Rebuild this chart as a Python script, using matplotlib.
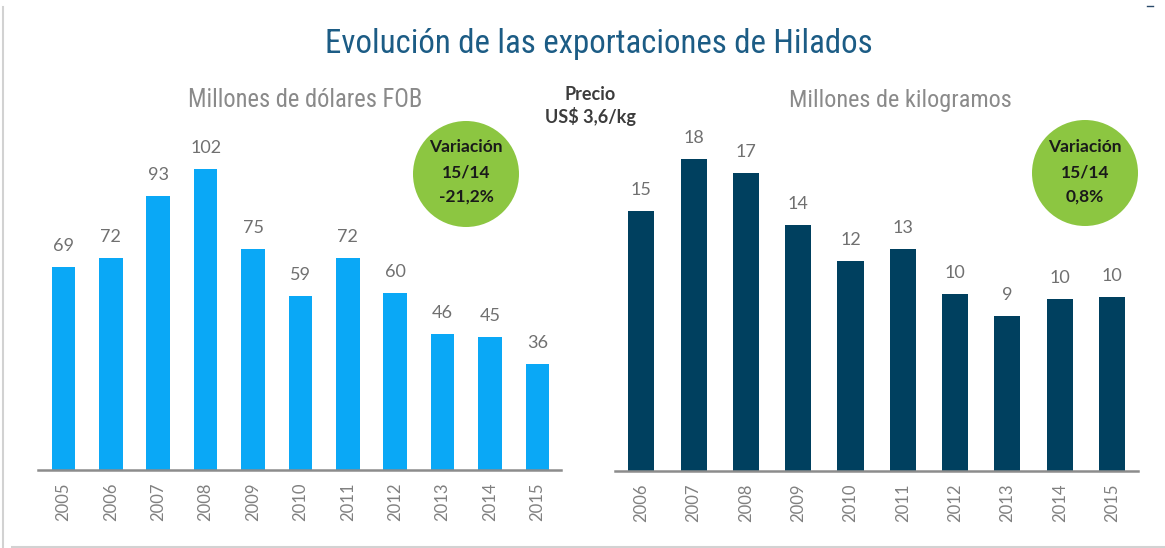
import matplotlib
matplotlib.use("Agg")
import matplotlib.pyplot as plt
from matplotlib import font_manager as fm
from matplotlib.patches import Ellipse
from matplotlib.lines import Line2D

# ---------------- data ----------------
years_usd = ["2005", "2006", "2007", "2008", "2009", "2010", "2011", "2012", "2013", "2014", "2015"]
usd_values = [69, 72, 93, 102, 75, 59, 72, 60, 46, 45, 36]

years_kg = ["2006", "2007", "2008", "2009", "2010", "2011", "2012", "2013", "2014", "2015"]
kg_values = [15.0, 18.0, 17.2, 14.2, 12.1, 12.8, 10.2, 8.9, 9.9, 10.0]

title = "Evolución de las exportaciones de Hilados"
sub_usd = "Millones de dólares FOB"
sub_kg = "Millones de kilogramos"
price_lines = ["Precio", "US$ 3,6/kg"]
var_usd = ["Variación", "15/14", "-21,2%"]
var_kg = ["Variación", "15/14", "0,8%"]

# ---------------- fonts ----------------
avail = {f.name for f in fm.fontManager.ttflist}
narrow = next((n for n in ["Liberation Sans Narrow", "DejaVu Sans Condensed",
                           "Roboto Condensed", "Open Sans Condensed", "Noto Sans Condensed"]
               if n in avail), "Roboto")
body = "Lato" if "Lato" in avail else "DejaVu Sans"

W, H = 1165, 548
fig = plt.figure(figsize=(W / 100, H / 100), dpi=100)
fig.patch.set_facecolor("white")


def fx(px):
    return px / W


def fy(py):
    return 1 - py / H


def add_panel(x0, x1, baseline, px_per_unit, ymax, xlim, cats, vals, color, width, labels):
    ax = fig.add_axes([fx(x0), fy(baseline), fx(x1 - x0), ymax * px_per_unit / H])
    pos = list(range(len(cats)))
    ax.bar(pos, vals, width=width, color=color, zorder=2)
    ax.set_xlim(*xlim)
    ax.set_ylim(0, ymax)
    for s in ["top", "left", "right"]:
        ax.spines[s].set_visible(False)
    ax.spines["bottom"].set_color("#8c8c8c")
    ax.spines["bottom"].set_linewidth(1.8)
    ax.spines["bottom"].set_zorder(3)
    ax.set_yticks([])
    ax.set_xticks(pos)
    ax.set_xticklabels(cats, rotation=90, fontsize=12, color="#808080", family=body)
    ax.tick_params(axis="x", length=0, pad=9)
    ax.patch.set_alpha(0)
    for p, v, lab in zip(pos, vals, labels):
        ax.annotate(lab, (p, v), xytext=(0, 11.5), textcoords="offset points",
                    ha="center", va="baseline", fontsize=13, color="#707070",
                    family=body, clip_on=False)
    return ax


add_panel(38.3, 560.9, 470.0, 2.948, 120, (-0.53, 10.496), years_usd, usd_values,
          "#0aa8f6", 0.5, [str(v) for v in usd_values])
add_panel(615.0, 1138.4, 470.5, 17.32, 20, (-0.503, 9.505), years_kg, kg_values,
          "#00405f", 0.5, [str(int(round(v))) for v in kg_values])

# ---------------- texts ----------------
t_title = fig.text(fx(598.5), fy(53.3), title, ha="center", va="baseline",
                   fontsize=22, color="#1c5c85", family=narrow)
t_s1 = fig.text(fx(305), fy(107.3), sub_usd, ha="center", va="baseline",
                fontsize=15, color="#8a8a8a", family=narrow)
t_s2 = fig.text(fx(900), fy(107.3), sub_kg, ha="center", va="baseline",
                fontsize=15, color="#8a8a8a", family=narrow)
t_p1 = fig.text(fx(590), fy(100), price_lines[0], ha="center", va="baseline",
                fontsize=11.5, color="#3c3c3c", family=body, fontweight="bold")
t_p2 = fig.text(fx(590), fy(123), price_lines[1], ha="center", va="baseline",
                fontsize=11.5, color="#3c3c3c", family=body, fontweight="bold")

fig.canvas.draw()
r = fig.canvas.get_renderer()
for t, target in [(t_title, 547), (t_s1, 235), (t_s2, 223), (t_p2, 91)]:
    bb = t.get_window_extent(r)
    t.set_fontsize(t.get_fontsize() * target / bb.width)
t_p1.set_fontsize(t_p2.get_fontsize())

# ---------------- circles ----------------
for cx, cy, lines in [(466, 174, var_usd), (1085, 173, var_kg)]:
    e = Ellipse((fx(cx), fy(cy)), width=106 / W, height=106 / H,
                transform=fig.transFigure, facecolor="#8cc641", edgecolor="none", zorder=5)
    fig.add_artist(e)
    for ty, s in zip([147, 172, 197], lines):
        fig.text(fx(cx), fy(ty), s, ha="center", va="center", fontsize=12.5,
                 color="#1a1a1a", family=body, fontweight="bold", zorder=6)

# ---------------- frame lines ----------------
fig.add_artist(Line2D([fx(3.3), fx(3.3)], [fy(7), fy(548)], transform=fig.transFigure,
                      color="#d2d2d2", linewidth=1.5))
fig.add_artist(Line2D([fx(12), fx(1165)], [fy(547), fy(547)], transform=fig.transFigure,
                      color="#d2d2d2", linewidth=1.5))
fig.add_artist(Line2D([fx(1147), fx(1153)], [fy(6), fy(6)], transform=fig.transFigure,
                      color="#2a4a6a", linewidth=1.0))

fig.savefig("out.png", dpi=100, facecolor="white")
